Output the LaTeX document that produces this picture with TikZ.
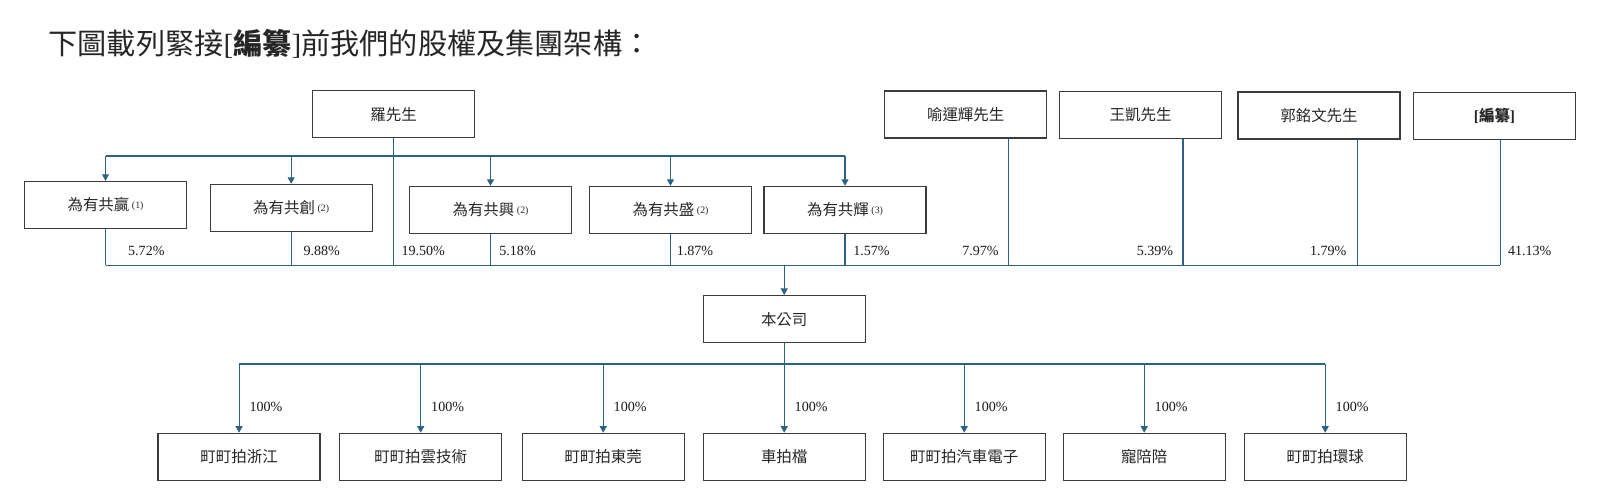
\documentclass[tikz,border=0pt]{standalone}
\usepackage{fontspec}
\setmainfont{Liberation Serif}
\newfontfamily\cjk{Noto Sans CJK TC}
\usetikzlibrary{arrows.meta}
\definecolor{orgblue}{RGB}{46, 98, 132}
\definecolor{orggray}{RGB}{60, 60, 60}
\newcommand{\fnref}[1]{{\rmfamily\fontsize{2.8}{3}\selectfont\raisebox{0.45ex}{(#1)}}}

\begin{document}
\begin{tikzpicture}[
  entity/.style={draw=orggray, line width=0.4pt, minimum width=1.62cm, minimum height=0.47cm, inner sep=0pt, text=black!85, font=\cjk\fontsize{4.4}{5}\selectfont},
  pct/.style={inner sep=0pt, text=black!90, font=\fontsize{4}{5}\selectfont},
  link/.style={orgblue, line width=0.3pt},
  feed/.style={link, -{Triangle[length=0.065cm, width=0.07cm]}}]
  \useasboundingbox (0,0) rectangle (15.99,-5);
  \node[anchor=west, inner sep=0pt, text=black!85, font=\cjk\fontsize{8.3}{9}\selectfont] (title) at (0.479,-0.439)
    {下圖載列緊接{\rmfamily[}{\bfseries 編纂}{\rmfamily]}前我們的股權及集團架構：};
  % shareholders
  \node[entity] (luo) at (3.936,-1.142) {羅先生};
  \node[entity] (yu) at (9.657,-1.147) {喻運輝先生};
  \node[entity] (wang) at (11.406,-1.150) {王凱先生};
  \node[entity] (guo) at (13.190,-1.157) {郭銘文先生};
  \node[entity, font=\cjk\bfseries\fontsize{4.4}{5}\selectfont] (bz) at (14.945,-1.163) {{\rmfamily[}編纂{\rmfamily]}};
  \node[entity] (ying) at (1.055,-2.050) {為有共贏\,\fnref{1}};
  \node[entity] (chuang) at (2.912,-2.080) {為有共創\,\fnref{2}};
  \node[entity] (xing) at (4.905,-2.100) {為有共興\,\fnref{2}};
  \node[entity] (sheng) at (6.705,-2.100) {為有共盛\,\fnref{2}};
  \node[entity] (hui) at (8.450,-2.100) {為有共輝\,\fnref{3}};
  % company and subsidiaries
  \node[entity] (co) at (7.842,-3.192) {本公司};
  \node[entity] (zj) at (2.391,-4.569) {町町拍浙江};
  \node[entity] (yun) at (4.207,-4.569) {町町拍雲技術};
  \node[entity] (dg) at (6.032,-4.569) {町町拍東莞};
  \node[entity] (cpd) at (7.842,-4.569) {車拍檔};
  \node[entity] (qc) at (9.642,-4.569) {町町拍汽車電子};
  \node[entity] (cpp) at (11.442,-4.569) {寵陪陪};
  \node[entity] (hq) at (13.252,-4.569) {町町拍環球};

  \coordinate (topbus) at (0,-1.56);
  \coordinate (lowbus) at (0,-2.651);
  \coordinate (pctrow) at (0,-2.509);
  \coordinate (subbus) at (0,-3.64);
  \coordinate (yudrop) at ([xshift=0.429cm]yu.south);
  \coordinate (wangdrop) at ([xshift=0.424cm]wang.south);
  \coordinate (guodrop) at ([xshift=0.384cm]guo.south);
  \coordinate (bzdrop) at ([xshift=0.056cm]bz.south);

  % Mr Luo to the partnerships
  \draw[link] (ying.north |- topbus) -- (hui.north |- topbus);
  \foreach \n in {ying, chuang, xing, sheng, hui}
    \draw[feed] (\n.north |- topbus) -- (\n.north);
  % holdings in the company
  \draw[link] (luo.south) -- (luo.south |- lowbus);
  \foreach \n in {ying, chuang, xing, sheng, hui}
    \draw[link] (\n.south) -- (\n.south |- lowbus);
  \foreach \n in {yudrop, wangdrop, guodrop, bzdrop}
    \draw[link] (\n) -- (\n |- lowbus);
  \draw[link] (ying.south |- lowbus) -- (bzdrop |- lowbus);
  \draw[feed] (lowbus -| co.north) -- (co.north);
  \foreach \n/\dx/\v in {ying/0.22/5.72, chuang/0.117/9.88, luo/0.072/19.50, xing/0.082/5.18, sheng/0.056/1.87, hui/0.076/1.57, bzdrop/0.072/41.13}
    \node[pct, anchor=west, xshift=\dx cm] at (\n |- pctrow) {\v\%};
  \foreach \n/\dx/\v in {yudrop/0.092/7.97, wangdrop/0.092/5.39, guodrop/0.103/1.79}
    \node[pct, anchor=east, xshift=-\dx cm] at (\n |- pctrow) {\v\%};
  % subsidiaries
  \draw[link] (co.south) -- (co.south |- subbus);
  \draw[link] (zj.north |- subbus) -- (hq.north |- subbus);
  \foreach \n in {zj, yun, dg, cpd, qc, cpp, hq}
    \draw[feed] (\n.north |- subbus) -- (\n.north) node[pct, anchor=west, pos=0.62, xshift=0.1cm] {100\%};
\end{tikzpicture}
\end{document}
